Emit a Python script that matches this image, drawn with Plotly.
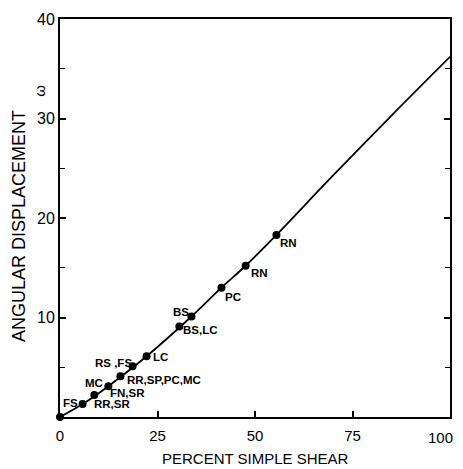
import plotly.graph_objects as go

# Data
point_x = [0.0, 5.8, 8.8, 12.4, 15.5, 18.6, 22.2, 30.6, 33.7, 41.4, 47.6, 55.5]
point_y = [0.0, 1.3, 2.2, 3.1, 4.1, 5.1, 6.1, 9.1, 10.1, 13.0, 15.2, 18.3]

curve_x = [0, 5.8, 12.4, 22.2, 33.7, 41.4, 47.6, 55.5, 69.1, 84.5, 100]
curve_y = [0, 1.3, 3.1, 6.1, 10.1, 13.0, 15.2, 18.3, 23.9, 30.1, 36.2]

label_text = ["FS", "RR,SR", "MC", "FN,SR", "RR,SP,PC,MC", "RS ,FS", "LC",
              "BS,LC", "BS", "PC", "RN", "RN"]
label_point = [1, 2, 3, 3, 4, 5, 6, 7, 8, 9, 10, 11]
label_dx = [-12, 18, -14, 19, 44, -19, 14, 21, -10, 12, 14, 12]
label_dy = [1, -9, 3, -7, -4, 3, -1, -4, 5, -9, -7, -8]

x_ticks = [0, 25, 50, 75, 100]
x_tick_text = ["0", "25", "50", "75", "100"]
y_ticks = [10, 20, 30, 40]

FONT = "Liberation Sans, Arial, sans-serif"

fig = go.Figure()
fig.add_trace(go.Scatter(x=curve_x, y=curve_y, mode="lines",
                         line=dict(color="black", width=1.8),
                         line_shape="spline", cliponaxis=False, hoverinfo="skip"))
fig.add_trace(go.Scatter(x=point_x, y=point_y, mode="markers",
                         marker=dict(color="black", size=8),
                         cliponaxis=False))

for t, p, dx, dy in zip(label_text, label_point, label_dx, label_dy):
    fig.add_annotation(x=point_x[p], y=point_y[p], text="<b>%s</b>" % t,
                       showarrow=False, xanchor="center", yanchor="middle",
                       xshift=dx, yshift=dy,
                       font=dict(family=FONT, size=11.5, color="black"))

# last x tick label placed flush with the page edge
fig.add_annotation(x=x_ticks[-1], xref="x", yref="paper", y=0, yshift=-20, xshift=5,
                   xanchor="right", yanchor="middle", showarrow=False,
                   text=x_tick_text[-1],
                   font=dict(family=FONT, size=15, color="black"))

fig.add_annotation(xref="paper", yref="paper", x=0.5, y=0, yshift=-41,
                   xanchor="center", yanchor="middle", showarrow=False,
                   text="PERCENT SIMPLE SHEAR",
                   font=dict(family=FONT, size=15, color="black"))
fig.add_annotation(xref="paper", yref="paper", x=0, xshift=-41, y=0.48,
                   xanchor="center", yanchor="middle", showarrow=False,
                   text="ANGULAR DISPLACEMENT", textangle=-90,
                   font=dict(family=FONT, size=18, color="black"))
fig.add_annotation(xref="paper", yref="paper", x=0, xshift=-20, y=0.82,
                   xanchor="center", yanchor="middle", showarrow=False,
                   text="ω", textangle=-90,
                   font=dict(family=FONT, size=15, color="black"))

fig.update_xaxes(range=[0, 100], tickvals=x_ticks,
                 ticktext=x_tick_text[:-1] + [""],
                 ticks="inside", ticklen=6,
                 tickwidth=1.5, tickcolor="black", showline=True, linecolor="black",
                 linewidth=1.8, mirror=True, showgrid=False, zeroline=False,
                 ticklabelstandoff=4, automargin=False,
                 tickfont=dict(family=FONT, size=15, color="black"))
fig.update_yaxes(range=[0, 40], tickvals=y_ticks, ticks="inside", ticklen=6,
                 tickwidth=1.5, tickcolor="black", showline=True, linecolor="black",
                 linewidth=1.8, mirror="ticks", showgrid=False, zeroline=False,
                 automargin=False,
                 minor=dict(ticks="inside", dtick=5, ticklen=5, tickcolor="black", tickwidth=1.2),
                 tickfont=dict(family=FONT, size=16, color="black"))

fig.update_layout(width=463, height=461, margin=dict(l=52, r=21, t=11, b=52),
                  plot_bgcolor="white", paper_bgcolor="white", showlegend=False)

fig.write_html("out.html")
